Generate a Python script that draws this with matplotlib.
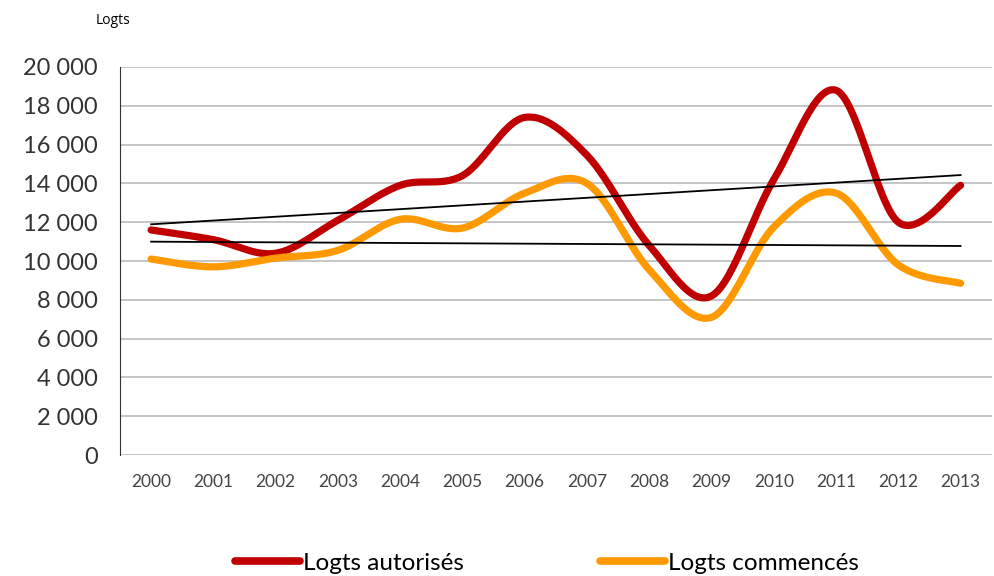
import numpy as np
import matplotlib
matplotlib.use("Agg")
import matplotlib.pyplot as plt
from matplotlib.lines import Line2D

years = list(range(2000, 2014))
autorises = [11600, 11100, 10400, 12100, 13900, 14400, 17400, 15450, 10800, 8200, 14200, 18800, 12000, 13900]
commences = [10100, 9700, 10150, 10550, 12150, 11700, 13500, 14000, 9550, 7100, 11750, 13500, 9800, 8850]
yticks = list(range(0, 20001, 2000))

def smooth(x, y, n=30):
    x = np.asarray(x, float); y = np.asarray(y, float)
    xs, ys = [], []
    for i in range(len(x) - 1):
        p0 = np.array([x[max(i-1, 0)], y[max(i-1, 0)]])
        p1 = np.array([x[i], y[i]])
        p2 = np.array([x[i+1], y[i+1]])
        p3 = np.array([x[min(i+2, len(x)-1)], y[min(i+2, len(x)-1)]])
        c1 = p1 + (p2 - p0) / 6
        c2 = p2 - (p3 - p1) / 6
        t = np.linspace(0, 1, n)[:, None]
        pts = (1-t)**3*p1 + 3*(1-t)**2*t*c1 + 3*(1-t)*t**2*c2 + t**3*p2
        xs.extend(pts[:, 0]); ys.extend(pts[:, 1])
    return np.array(xs), np.array(ys)

fig = plt.figure(figsize=(9.94, 5.76), dpi=100)
ax = fig.add_axes([0.1207, 0.21, 0.877, 0.6737])

red = "#C00000"
orange = "#FF9900"
for s, c in ((autorises, red), (commences, orange)):
    xs, ys = smooth(years, s)
    ax.plot(xs, ys, color=c, lw=5.2, solid_capstyle="round", zorder=3)

for s in (autorises, commences):
    a, b = np.polyfit(years, s, 1)
    xx = np.array([years[0], years[-1]])
    ax.plot(xx, a * xx + b, color="black", lw=1.3, zorder=4)

ax.set_xlim(1999.5, 2013.5)
ax.set_ylim(0, 20000)
ax.set_yticks(yticks)
ax.set_yticklabels([f"{v:,}".replace(",", " ") for v in yticks], fontsize=17, color="#333333", family="Lato")
ax.set_xticks(years)
ax.set_xticklabels([str(y) for y in years], fontsize=12.5, color="#444444", family="Lato")
ax.grid(axis="y", color="#BBBBBB", lw=1.2)
ax.set_axisbelow(True)
for sp in ("top", "right", "bottom"):
    ax.spines[sp].set_visible(False)
ax.spines["left"].set_color("#333333")
ax.tick_params(axis="both", length=0)
ax.tick_params(axis="x", pad=14)
ax.tick_params(axis="y", pad=16)

fig.text(0.096, 0.965, "Logts", fontsize=10, family="Open Sans", ha="left", va="center")

handles = [Line2D([], [], color=red, lw=5.5, solid_capstyle="round"),
           Line2D([], [], color=orange, lw=5.5, solid_capstyle="round")]
fig.legend(handles, ["Logts autorisés", "Logts commencés"], loc="center", bbox_to_anchor=(0.55, 0.022),
           ncol=2, frameon=False, prop={"family": "Lato", "size": 17.5}, handlelength=2.7,
           handletextpad=0.1, columnspacing=5.6)

fig.savefig("out.png", dpi=100)
